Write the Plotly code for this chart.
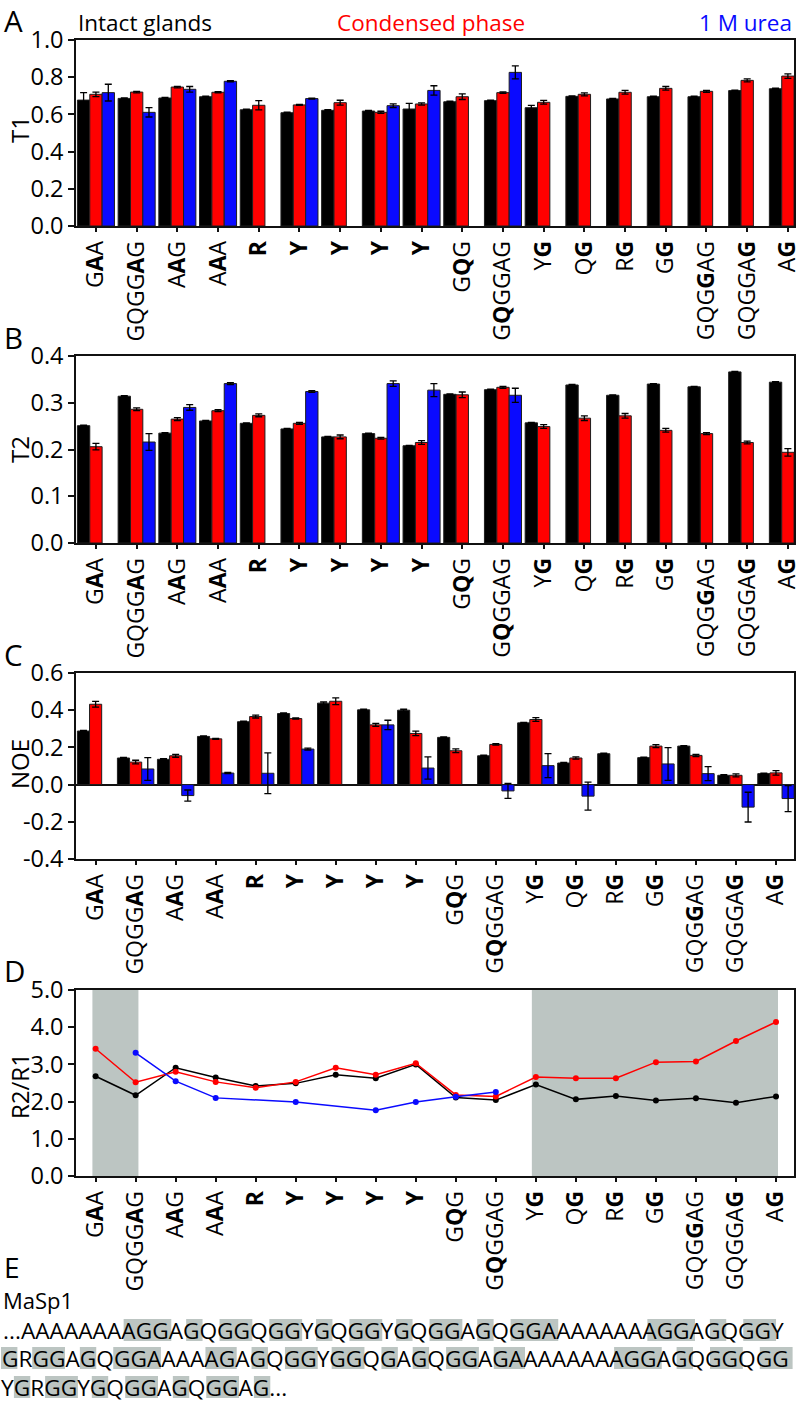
import plotly.graph_objects as go

W, H = 802, 1405
FONT = "Open Sans"
BLACK, RED, BLUE = "#000000", "#ff0000", "#0a0aff"
SHADE = "#bcc5c2"

# ---------------- data ----------------
tick_labels = ["G<b>A</b>A", "GQGG<b>A</b>G", "A<b>A</b>G", "A<b>A</b>A", "<b>R</b>",
               "<b>Y</b>", "<b>Y</b>", "<b>Y</b>", "<b>Y</b>", "G<b>Q</b>G", "G<b>Q</b>GGAG",
               "Y<b>G</b>", "Q<b>G</b>", "R<b>G</b>", "G<b>G</b>", "GQG<b>G</b>AG",
               "GQGGA<b>G</b>", "A<b>G</b>"]
positions = list(range(len(tick_labels)))

# Panel A: T1
t1_black = [0.677, 0.686, 0.688, 0.695, 0.625, 0.609, 0.622, 0.618, 0.629, 0.668,
            0.674, 0.636, 0.697, 0.683, 0.695, 0.695, 0.728, 0.738]
t1_black_err = [0.04, 0.003, 0.003, 0.003, 0.003, 0.003, 0.003, 0.003, 0.03, 0.003,
                0.003, 0.012, 0.003, 0.003, 0.003, 0.003, 0.003, 0.003]
t1_red = [0.708, 0.720, 0.747, 0.719, 0.649, 0.651, 0.663, 0.611, 0.656, 0.695,
          0.717, 0.665, 0.708, 0.719, 0.740, 0.724, 0.783, 0.806]
t1_red_err = [0.012, 0.004, 0.004, 0.003, 0.025, 0.003, 0.013, 0.006, 0.006, 0.015,
              0.004, 0.01, 0.008, 0.01, 0.01, 0.005, 0.008, 0.012]
t1_blue = [0.717, 0.611, 0.735, 0.778, None, 0.685, None, 0.647, 0.729, None,
           0.826, None, None, None, None, None, None, None]
t1_blue_err = [0.045, 0.025, 0.015, 0.003, None, 0.003, None, 0.01, 0.025, None,
               0.035, None, None, None, None, None, None, None]

# Panel B: T2
t2_black = [0.251, 0.314, 0.235, 0.261, 0.256, 0.244, 0.227, 0.234, 0.208, 0.318,
            0.328, 0.257, 0.338, 0.316, 0.340, 0.334, 0.366, 0.344]
t2_black_err = [0.001] * 18
t2_red = [0.206, 0.286, 0.265, 0.283, 0.273, 0.256, 0.227, 0.224, 0.215, 0.317,
          0.333, 0.249, 0.267, 0.272, 0.241, 0.234, 0.215, 0.194]
t2_red_err = [0.007, 0.003, 0.003, 0.002, 0.003, 0.002, 0.004, 0.002, 0.004, 0.006,
              0.002, 0.004, 0.005, 0.005, 0.004, 0.002, 0.003, 0.008]
t2_blue = [None, 0.216, 0.290, 0.341, None, 0.324, None, 0.341, 0.327, None,
           0.316, None, None, None, None, None, None, None]
t2_blue_err = [None, 0.018, 0.006, 0.002, None, 0.002, None, 0.006, 0.014, None,
               0.015, None, None, None, None, None, None, None]

# Panel C: NOE
noe_black = [0.288, 0.143, 0.136, 0.259, 0.338, 0.382, 0.438, 0.402, 0.400, 0.254,
             0.155, 0.332, 0.116, 0.166, 0.145, 0.207, 0.050, 0.059]
noe_black_err = [0.003, 0.003, 0.003, 0.003, 0.003, 0.003, 0.006, 0.003, 0.005, 0.003,
                 0.003, 0.003, 0.003, 0.003, 0.003, 0.003, 0.003, 0.003]
noe_red = [0.432, 0.121, 0.155, 0.246, 0.366, 0.355, 0.448, 0.321, 0.275, 0.182,
           0.216, 0.350, 0.143, None, 0.207, 0.157, 0.050, 0.063]
noe_red_err = [0.015, 0.01, 0.008, 0.003, 0.008, 0.003, 0.018, 0.008, 0.012, 0.01,
               0.004, 0.01, 0.006, None, 0.008, 0.006, 0.008, 0.012]
noe_blue = [None, 0.084, -0.059, 0.062, 0.061, 0.191, None, 0.321, 0.089, None,
            -0.034, 0.102, -0.062, None, 0.111, 0.059, -0.121, -0.075]
noe_blue_err = [None, 0.061, 0.03, 0.003, 0.11, 0.005, None, 0.025, 0.06, None,
                0.04, 0.065, 0.075, None, 0.088, 0.038, 0.08, 0.07]

# Panel D: R2/R1
r21_black = [2.68, 2.17, 2.91, 2.65, 2.42, 2.49, 2.72, 2.63, 3.00, 2.11,
             2.04, 2.46, 2.06, 2.15, 2.03, 2.09, 1.97, 2.14]
r21_red = [3.42, 2.52, 2.80, 2.53, 2.37, 2.53, 2.91, 2.72, 3.03, 2.18,
           2.14, 2.66, 2.63, 2.63, 3.06, 3.08, 3.63, 4.14]
r21_blue = [None, 3.31, 2.55, 2.10, None, 1.99, None, 1.77, 1.99, 2.13,
            2.26, None, None, None, None, None, None, None]

# y-axis tick labels
t1_ticks = ["0.0", "0.2", "0.4", "0.6", "0.8", "1.0"]
t2_ticks = ["0.0", "0.1", "0.2", "0.3", "0.4"]
noe_ticks = ["-0.4", "-0.2", "0.0", "0.2", "0.4", "0.6"]
r21_ticks = ["0.0", "1.0", "2.0", "3.0", "4.0", "5.0"]

# Panel E: sequence segments (text, highlighted)
seq_line1 = [("...AAAAAAA", 0), ("AGG", 1), ("A", 0), ("G", 1), ("Q", 0), ("GG", 1), ("Q", 0),
             ("GG", 1), ("Y", 0), ("G", 1), ("Q", 0), ("GG", 1), ("Y", 0), ("G", 1), ("Q", 0),
             ("GG", 1), ("A", 0), ("G", 1), ("Q", 0), ("GGA", 1), ("AAAAAA", 0), ("AGG", 1),
             ("A", 0), ("G", 1), ("Q", 0), ("GG", 1), ("Y", 0)]
seq_line2 = [("G", 1), ("R", 0), ("GG", 1), ("A", 0), ("G", 1), ("Q", 0), ("GGA", 1), ("AAA", 0),
             ("AG", 1), ("A", 0), ("G", 1), ("Q", 0), ("GG", 1), ("Y", 0), ("GG", 1), ("Q", 0),
             ("G", 1), ("A", 0), ("G", 1), ("Q", 0), ("GG", 1), ("A", 0), ("GA", 1),
             ("AAAAAA", 0), ("AGG", 1), ("A", 0), ("G", 1), ("Q", 0), ("GG", 1), ("Q", 0), ("GG", 1)]
seq_line3 = [("Y", 0), ("G", 1), ("R", 0), ("GG", 1), ("Y", 0), ("G", 1), ("Q", 0), ("GG", 1),
             ("A", 0), ("G", 1), ("Q", 0), ("GG", 1), ("A", 0), ("G", 1), ("...", 0)]

# ---------------- layout helpers ----------------
def px(x):
    return x / W


def py(y):
    return 1 - y / H


fig = go.Figure()

panels = [
    # suffix, top px, bottom px, y range, tick values, tick text, x range
    ("", 40, 226, [0, 1.0], [0, 0.2, 0.4, 0.6, 0.8, 1.0], t1_ticks, [-0.49, 17.15]),
    ("2", 356, 543, [0, 0.4], [0, 0.1, 0.2, 0.3, 0.4], t2_ticks, [-0.49, 17.15]),
    ("3", 673, 859, [-0.4, 0.6], [-0.4, -0.2, 0, 0.2, 0.4, 0.6], noe_ticks, [-0.49, 17.45]),
    ("4", 990, 1176, [0, 5.0], [0, 1, 2, 3, 4, 5], r21_ticks, [-0.49, 17.45]),
]

bar_sets = [
    ("", [(t1_black, t1_black_err, BLACK), (t1_red, t1_red_err, RED), (t1_blue, t1_blue_err, BLUE)]),
    ("2", [(t2_black, t2_black_err, BLACK), (t2_red, t2_red_err, RED), (t2_blue, t2_blue_err, BLUE)]),
    ("3", [(noe_black, noe_black_err, BLACK), (noe_red, noe_red_err, RED), (noe_blue, noe_blue_err, BLUE)]),
]

for suf, series in bar_sets:
    for vals, errs, col in series:
        fig.add_trace(go.Bar(
            x=positions, y=vals,
            error_y=dict(type="data", array=errs, visible=True, color="black",
                         thickness=1.3, width=3.5),
            marker=dict(color=col, line=dict(color="#1e1e1e", width=1)),
            xaxis="x" + suf, yaxis="y" + suf, showlegend=False,
        ))

for vals, col, gaps in [(r21_black, BLACK, False), (r21_red, RED, False), (r21_blue, BLUE, True)]:
    fig.add_trace(go.Scatter(
        x=positions, y=vals, mode="lines+markers", connectgaps=gaps,
        line=dict(color=col, width=1.5), marker=dict(color=col, size=6),
        xaxis="x4", yaxis="y4", showlegend=False,
    ))

axis_common = dict(showline=True, linecolor="#111111", linewidth=1.5, mirror=True,
                   ticks="outside", tickwidth=1.5, tickcolor="#111111",
                   showgrid=False, zeroline=False, automargin=False)

layout = dict(
    width=W, height=H, margin=dict(l=0, r=0, t=0, b=0, pad=0),
    paper_bgcolor="white", plot_bgcolor="white",
    barmode="group", bargap=0.09, bargroupgap=0,
    font=dict(family=FONT, color="black", size=22),
    showlegend=False,
)

for suf, top, bot, yr, tv, tt, xr in panels:
    anchor_y = "y" + suf
    anchor_x = "x" + suf
    layout["xaxis" + suf] = dict(
        axis_common, domain=[px(76), px(794)], range=xr, anchor=anchor_y, ticklen=4,
        tickmode="array", tickvals=positions, ticktext=tick_labels, tickangle=-90,
        ticklabeloverflow="allow",
        tickfont=dict(family=FONT, size=23, color="black"),
    )
    ydict = dict(
        axis_common, domain=[py(bot), py(top)], range=yr, anchor=anchor_x, ticklen=6,
        tickmode="array", tickvals=tv, ticktext=tt,
        tickfont=dict(family=FONT, size=23.5, color="black"),
    )
    if suf == "3":
        ydict.update(zeroline=True, zerolinecolor="#111111", zerolinewidth=1.5)
    layout["yaxis" + suf] = ydict

fig.update_layout(**layout)

# Panel D shaded regions
for x0, x1 in [(-0.08, 1.07), (10.9, 17.05)]:
    fig.add_shape(type="rect", xref="x4", yref="y4", x0=x0, x1=x1, y0=0, y1=5,
                  fillcolor=SHADE, line=dict(width=0), layer="below")

ann = []
# panel letters
for letter, yc, sz in [("A", 21, 29.5), ("B", 337, 29.5), ("C", 655, 29.5), ("D", 970, 29.5),
                       ("E", 1267, 28)]:
    ann.append(dict(text=letter, x=px(2), y=py(yc), xref="paper", yref="paper",
                    xanchor="left", yanchor="middle", showarrow=False,
                    font=dict(family=FONT, size=sz, color="black")))
# legend titles
ann.append(dict(text="Intact glands", x=px(76), y=py(23), xanchor="left",
                font=dict(family=FONT, size=22.5, color="black")))
ann.append(dict(text="Condensed phase", x=px(431), y=py(23), xanchor="center",
                font=dict(family=FONT, size=22.5, color=RED)))
ann.append(dict(text="1 M urea", x=px(794), y=py(23), xanchor="right",
                font=dict(family=FONT, size=22.5, color=BLUE)))
# y axis titles
for t, yc in [("T1", 130), ("T2", 450), ("NOE", 764), ("R2/R1", 1086)]:
    ann.append(dict(text=t, x=px(19), y=py(yc), xanchor="center", yanchor="middle",
                    textangle=-90, font=dict(family=FONT, size=24, color="black")))
# Panel E
ann.append(dict(text="MaSp1", x=px(1), y=py(1300), xanchor="left",
                font=dict(family=FONT, size=22, color="black")))

E_SIZE = 22.7
char_w = {"A": 14.85, "G": 16.4, "Q": 17.0, "Y": 13.9, "R": 14.8, ".": 5.9}
for segs, yc, x_start in [(seq_line1, 1330, 2), (seq_line2, 1358, 1), (seq_line3, 1387, 0)]:
    x = x_start
    for txt, hl in segs:
        w = sum(char_w[c] for c in txt)
        if hl:
            fig.add_shape(type="rect", xref="paper", yref="paper",
                          x0=px(x), x1=px(x + w), y0=py(yc + 11), y1=py(yc - 11),
                          fillcolor=SHADE, line=dict(width=0), layer="below")
        x += w
    line_text = "".join(t for t, _ in segs)
    ann.append(dict(text=line_text, x=px(x_start), y=py(yc), xanchor="left", borderpad=0,
                    font=dict(family=FONT, size=E_SIZE, color="black")))

for a in ann:
    a.setdefault("xref", "paper")
    a.setdefault("yref", "paper")
    a.setdefault("yanchor", "middle")
    a.setdefault("showarrow", False)
    a.setdefault("font", dict(family=FONT, size=22, color="black"))
    fig.add_annotation(**a)

fig.write_html("out.html")
